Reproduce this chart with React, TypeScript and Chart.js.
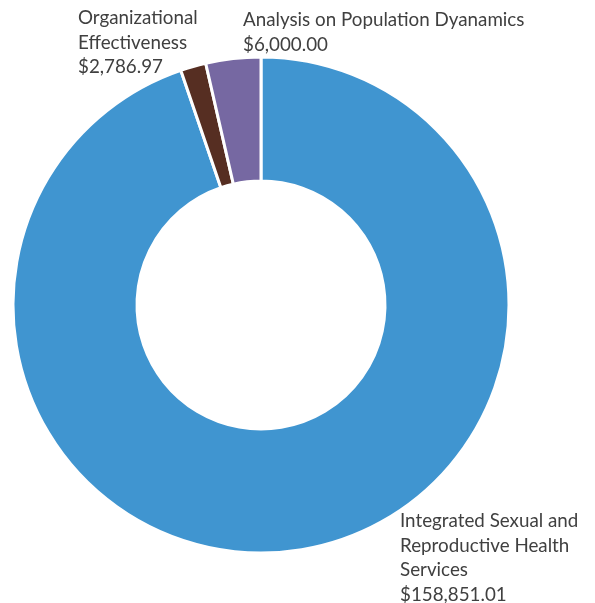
import React, { useEffect, useRef } from "react";
import { Chart, registerables } from "chart.js";

Chart.register(...registerables);

const categories = [
  "Integrated Sexual and Reproductive Health Services",
  "Organizational Effectiveness",
  "Analysis on Population Dyanamics",
];
const values = [158851.01, 2786.97, 6000.0];
const colors = ["#4095D0", "#562E22", "#7668A2"];
const labelLines = [
  ["Integrated Sexual and", "Reproductive Health", "Services", "$158,851.01"],
  ["Organizational", "Effectiveness", "$2,786.97"],
  ["Analysis on Population Dyanamics", "$6,000.00"],
];
// label anchor (left x, first line center y) relative to canvas
const labelAnchors = [
  [400, 521],
  [78, 18],
  [243, 20],
];

const FONT = "Lato, 'Liberation Sans', sans-serif";

export default function App() {
  const ref = useRef<HTMLCanvasElement | null>(null);
  useEffect(() => {
    document.body.style.margin = "0";
    const labelPlugin = {
      id: "outLabels",
      afterDraw(chart: any) {
        const ctx = chart.ctx;
        ctx.save();
        ctx.fillStyle = "#404040";
        ctx.font = `18.8px ${FONT}`;
        ctx.textAlign = "left";
        ctx.textBaseline = "middle";
        labelLines.forEach((lines, i) => {
          const [x, y] = labelAnchors[i];
          lines.forEach((ln, j) => ctx.fillText(ln, x, y + j * 24.5));
        });
        ctx.restore();
      },
    };
    const chart = new Chart(ref.current!, {
      type: "doughnut",
      data: {
        labels: categories,
        datasets: [
          {
            data: values,
            backgroundColor: colors,
            borderColor: "#ffffff",
            borderWidth: 3,
          },
        ],
      },
      options: {
        responsive: false,
        animation: false,
        cutout: "50%",
        layout: { padding: { left: 11.5, top: 55.5, right: 84.5, bottom: 48.5 } },
        plugins: {
          legend: { display: false },
          tooltip: { enabled: false },
        },
      },
      plugins: [labelPlugin],
    });
    return () => chart.destroy();
  }, []);
  return (
    <div style={{ width: 595, height: 603 }}>
      <canvas ref={ref} width={595} height={603} style={{ display: "block" }} />
    </div>
  );
}
